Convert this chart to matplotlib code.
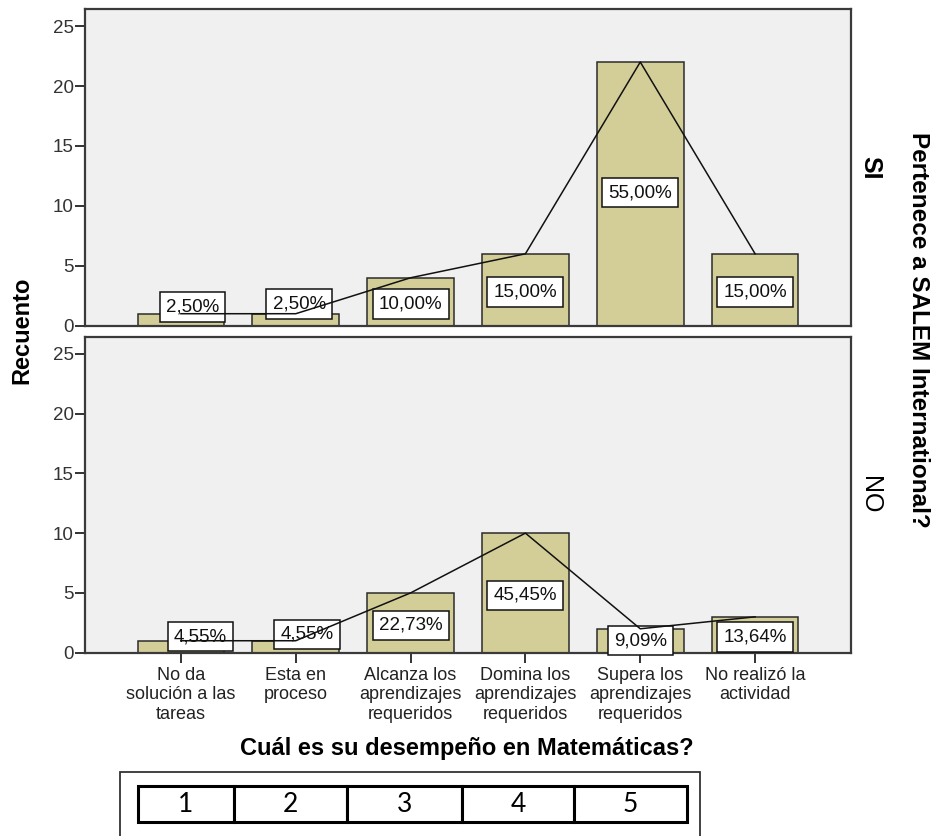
import numpy as np
import matplotlib.pyplot as plt
from matplotlib.patches import Rectangle

plt.rcParams['font.family'] = ['Liberation Sans', 'DejaVu Sans']

# Data
categories = ['No da\nsolución a las\ntareas', 'Esta en\nproceso',
              'Alcanza los\naprendizajes\nrequeridos', 'Domina los\naprendizajes\nrequeridos',
              'Supera los\naprendizajes\nrequeridos', 'No realizó la\nactividad']
groups = ['SI', 'NO']
counts_si = [1, 1, 4, 6, 22, 6]
counts_no = [1, 1, 5, 10, 2, 3]
y_ticks = [0, 5, 10, 15, 20, 25]
scale_labels = ['1', '2', '3', '4', '5']

# label nudges (in data units) relative to bar middle
label_dx = {'SI': [0.10, 0.03, 0, 0, 0, 0], 'NO': [0.17, 0.10, 0, 0, 0, 0]}
label_dy = {'SI': [1.06, 1.30, -0.2, -0.2, 0.1, -0.2], 'NO': [0.83, 1.03, -0.2, -0.2, 0.0, -0.2]}

W, H = 935, 836
fig = plt.figure(figsize=(W/100, H/100), dpi=100)
fig.patch.set_facecolor('white')

bar_color = '#D3CE97'
edge = '#2b2b2b'
x = np.arange(len(categories))

def fx(px):
    return px / W

def fy(py):
    return 1 - py / H

panels = [(groups[0], counts_si, 9.3, 325.7), (groups[1], counts_no, 337, 652.7)]
axes = []
for name, counts, top, bot in panels:
    ax = fig.add_axes([fx(85), fy(bot), fx(851) - fx(85), fy(top) - fy(bot)])
    ax.set_facecolor('#F0F0F0')
    ax.bar(x, counts, width=0.755, color=bar_color, edgecolor=edge, linewidth=1.1, zorder=2)
    ax.plot(x, counts, color='#111111', linewidth=1.1, zorder=5)
    total = sum(counts)
    for i, c in enumerate(counts):
        pct = f'{100 * c / total:.2f}%'.replace('.', ',')
        ax.text(i + label_dx[name][i], c / 2 + label_dy[name][i], pct,
                ha='center', va='center', fontsize=13.5, color='#111111', zorder=4,
                bbox=dict(boxstyle='square,pad=0.33', fc='white', ec='#111111', lw=1.1))
    ax.set_xlim(-0.835, 5.835)
    ax.set_ylim(0, 26.4)
    ax.set_yticks(y_ticks)
    ax.tick_params(axis='y', labelsize=13.5, colors='#333333', length=7, width=1.4, pad=1)
    for s in ax.spines.values():
        s.set_color('#3a3a3a')
        s.set_linewidth(1.6)
    ax.text(fx(870), 0.5 * (fy(top) + fy(bot)), name, transform=fig.transFigure,
            rotation=270, ha='center', va='center', fontsize=18, fontweight='bold' if name == 'SI' else 'normal')
    axes.append(ax)

axes[0].set_xticks([])
axes[1].set_xticks(x)
axes[1].set_xticklabels(categories, fontsize=13, linespacing=1.22, color='#222222')
axes[1].tick_params(axis='x', length=7, width=1.4, colors='#333333', pad=3)
for lab in axes[1].get_xticklabels():
    lab.set_color('#222222')

fig.text(fx(22), fy(330), 'Recuento', rotation=90, ha='center', va='center',
         fontsize=17, fontweight='bold')
fig.text(fx(918), fy(330), 'Pertenece a SALEM International?', rotation=270,
         ha='center', va='center', fontsize=17.5, fontweight='bold')
fig.text(fx(467), fy(749), 'Cuál es su desempeño en Matemáticas?', ha='center',
         va='center', fontsize=17, fontweight='bold')

# outer frame of the scale box (bottom edge falls outside the image)
fig.patches.append(Rectangle((fx(120), fy(860)), fx(700) - fx(120), fy(772) - fy(860),
                             transform=fig.transFigure, fill=False, ec='#333333', lw=1.3))

# scale table
tax = fig.add_axes([fx(138), fy(822), fx(687) - fx(138), fy(786) - fy(822)])
tax.axis('off')
col_w = [96, 113, 115, 112, 113]
tbl = tax.table(cellText=[scale_labels], colWidths=[w / sum(col_w) for w in col_w],
                cellLoc='center', bbox=[0, 0, 1, 1])
tbl.auto_set_font_size(False)
for (r, c), cell in tbl.get_celld().items():
    cell.set_linewidth(2.2)
    cell.set_edgecolor('black')
    cell.get_text().set_fontsize(19)
    cell.get_text().set_fontfamily(['Lato', 'DejaVu Sans'])

fig.savefig('out.png', dpi=100)
